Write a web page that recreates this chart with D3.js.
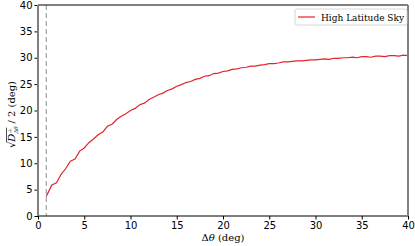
<!DOCTYPE html>
<html>
<head>
<meta charset="utf-8">
<script src="https://cdn.jsdelivr.net/npm/d3@7"></script>
<style>
  body { margin: 0; background: #fff; }
  svg { display: block; }
  .axis text { font-family: 'DejaVu Sans', sans-serif; font-size: 10px; fill: #000; }
  .axis line { stroke: #000; }
  .axis path { display: none; }
</style>
</head>
<body>
<div id="chart"></div>
<script>
// data
var deltaTheta = [0.9, 1.0, 1.5, 2.0, 2.5, 3.0, 3.5, 4.0, 4.5, 5.0, 5.5, 6.0, 6.5, 7.0, 7.5, 8.0, 8.5, 9.0, 9.5, 10.0,
  10.5, 11.0, 11.5, 12.0, 12.5, 13.0, 13.5, 14.0, 14.5, 15.0, 15.5, 16.0, 16.5, 17.0, 17.5, 18.0, 18.5, 19.0, 19.5, 20.0,
  20.5, 21.0, 21.5, 22.0, 22.5, 23.0, 23.5, 24.0, 24.5, 25.0, 25.5, 26.0, 26.5, 27.0, 27.5, 28.0, 28.5, 29.0, 29.5, 30.0,
  30.5, 31.0, 31.5, 32.0, 32.5, 33.0, 33.5, 34.0, 34.5, 35.0, 35.5, 36.0, 36.5, 37.0, 37.5, 38.0, 38.5, 39.0, 39.5, 40.0]
var highLatSky = [3.7, 4.1, 5.9, 6.3, 7.9, 9.0, 10.4, 10.8, 12.3, 12.9, 13.9, 14.6, 15.4, 15.9, 17.0, 17.4, 18.3, 18.9, 19.4, 20.0,
  20.4, 21.1, 21.4, 22.1, 22.5, 23.0, 23.3, 23.8, 24.1, 24.6, 24.9, 25.3, 25.5, 25.9, 26.1, 26.5, 26.6, 27.0, 27.1, 27.4,
  27.5, 27.8, 27.9, 28.1, 28.2, 28.4, 28.4, 28.6, 28.7, 28.9, 28.9, 29.0, 29.2, 29.2, 29.3, 29.4, 29.4, 29.5, 29.6, 29.6,
  29.7, 29.8, 29.7, 29.9, 29.9, 30.0, 30.0, 30.1, 30.0, 30.2, 30.2, 30.1, 30.3, 30.3, 30.2, 30.4, 30.4, 30.3, 30.5, 30.4]
var xTicks = [0, 5, 10, 15, 20, 25, 30, 35, 40]
var yTicks = [0, 5, 10, 15, 20, 25, 30, 35, 40]
var cutoff = 0.9
var seriesName = 'High Latitude Sky'

var W = 415, H = 246
var margin = { top: 5, left: 38, right: 7, bottom: 30 }
var width = W - margin.left - margin.right
var height = H - margin.top - margin.bottom

var svg = d3.select('#chart').append('svg')
  .attr('width', W)
  .attr('height', H)

var g = svg.append('g')
  .attr('transform', 'translate(' + margin.left + ',' + margin.top + ')')

var x = d3.scaleLinear().domain([0, 40]).range([0, width])
var y = d3.scaleLinear().domain([0, 40]).range([height, 0])

var points = deltaTheta.map((d, i) => ({ x: d, y: highLatSky[i] }))

// dashed cutoff line
g.append('line')
  .attr('x1', x(cutoff)).attr('x2', x(cutoff))
  .attr('y1', 0).attr('y2', height)
  .attr('stroke', '#aaa')
  .attr('stroke-width', 1.3)
  .attr('stroke-dasharray', '5,3')

var line = d3.line().x(d => x(d.x)).y(d => y(d.y))

g.append('path')
  .datum(points)
  .attr('d', line)
  .attr('fill', 'none')
  .attr('stroke', '#e3242b')
  .attr('stroke-width', 1.2)

// axes
g.append('g')
  .attr('class', 'axis')
  .attr('transform', 'translate(0,' + height + ')')
  .call(d3.axisBottom(x).tickValues(xTicks).tickSize(3.5).tickPadding(2))

g.append('g')
  .attr('class', 'axis')
  .call(d3.axisLeft(y).tickValues(yTicks).tickSize(3.5).tickPadding(2))

// spines: top/bottom black, left/right grey
g.append('line').attr('x1', 0).attr('x2', width).attr('y1', 0).attr('y2', 0)
  .attr('stroke', '#000').attr('stroke-width', 1)
g.append('line').attr('x1', 0).attr('x2', width).attr('y1', height).attr('y2', height)
  .attr('stroke', '#000').attr('stroke-width', 1)
g.append('line').attr('x1', 0).attr('x2', 0).attr('y1', 0).attr('y2', height)
  .attr('stroke', '#808080').attr('stroke-width', 2)
g.append('line').attr('x1', width).attr('x2', width).attr('y1', 0).attr('y2', height)
  .attr('stroke', '#808080').attr('stroke-width', 2)

// axis labels
var xlab = svg.append('text')
  .attr('x', margin.left + width / 2)
  .attr('y', 241)
  .attr('text-anchor', 'middle')
  .attr('font-family', 'DejaVu Serif, serif')
  .attr('font-size', 10)
xlab.append('tspan').text('\u0394')
xlab.append('tspan').attr('font-style', 'italic').text('\u03b8')
xlab.append('tspan').text(' (deg)')

// y label: sqrt(D^perp_dtheta) / 2 (deg), rotated
var yg = svg.append('g')
  .attr('transform', 'translate(15,' + (margin.top + height / 2) + ') rotate(-90)')
var ylab = yg.append('text')
  .attr('font-family', 'DejaVu Serif, serif')
  .attr('font-size', 10)
ylab.append('tspan').text('\u221a')
ylab.append('tspan').attr('font-style', 'italic').text('D')
ylab.append('tspan').attr('font-size', 5.5).attr('dy', 2.5).attr('font-style', 'italic').text('\u0394\u03b8')
ylab.append('tspan').attr('font-size', 5).attr('dx', -7).attr('dy', -6.5).text('\u22a5')
ylab.append('tspan').attr('dy', 4).attr('dx', 5).text('/ 2 (deg)')

var node = ylab.node()
var total = node.getComputedTextLength()
ylab.attr('x', -total / 2 - 3)
var e0 = node.getExtentOfChar(0)
var e4 = node.getExtentOfChar(4)
// overline of the root sign
yg.append('line')
  .attr('x1', e0.x + e0.width - 0.5)
  .attr('x2', e4.x + e4.width + 1)
  .attr('y1', e0.y + 0.5).attr('y2', e0.y + 0.5)
  .attr('stroke', '#000').attr('stroke-width', 0.7)

// legend
var leg = svg.append('g').attr('transform', 'translate(295,9)')
leg.append('rect')
  .attr('width', 112).attr('height', 16)
  .attr('rx', 2)
  .attr('fill', '#fff')
  .attr('stroke', '#ccc')
  .attr('stroke-width', 0.8)
leg.append('line')
  .attr('x1', 3).attr('x2', 20).attr('y1', 8).attr('y2', 8)
  .attr('stroke', '#e3242b').attr('stroke-width', 1.2)
leg.append('text')
  .attr('x', 26).attr('y', 11.5)
  .attr('font-family', 'DejaVu Serif, serif')
  .attr('font-size', 9)
  .text(seriesName)
</script>
</body>
</html>
